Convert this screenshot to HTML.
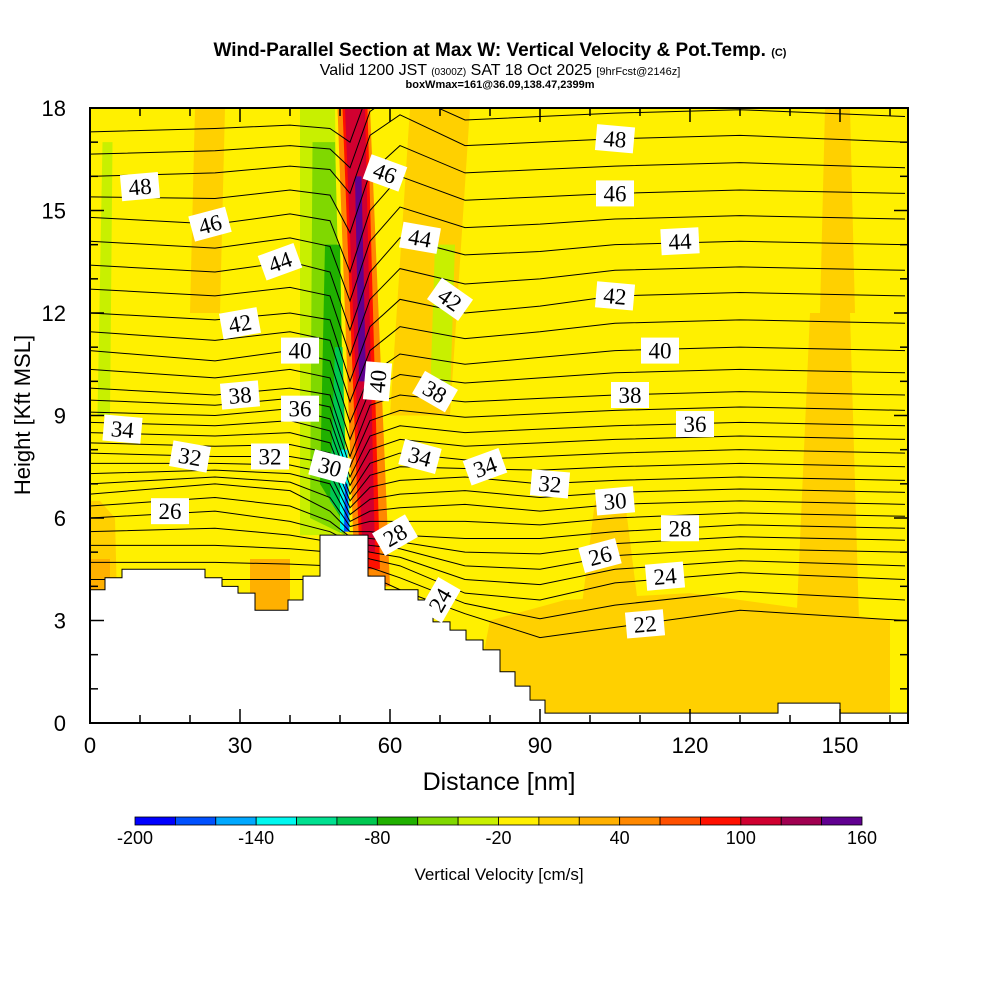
<!DOCTYPE html>
<html><head><meta charset="utf-8"><style>
body{margin:0;background:#fff;width:1000px;height:1000px;overflow:hidden}
svg{display:block;font-family:"Liberation Sans",sans-serif}
</style></head><body>
<svg id="c" width="1000" height="1000" viewBox="0 0 1000 1000">
<text x="500" y="56" text-anchor="middle" font-size="19" font-weight="bold">Wind-Parallel Section at Max W: Vertical Velocity &amp; Pot.Temp. <tspan font-size="11">(C)</tspan></text>
<text x="500" y="75" text-anchor="middle" font-size="16">Valid 1200 JST <tspan font-size="10">(0300Z)</tspan> SAT 18 Oct 2025 <tspan font-size="11">[9hrFcst@2146z]</tspan></text>
<text x="500" y="88" text-anchor="middle" font-size="11" font-weight="bold">boxWmax=161@36.09,138.47,2399m</text>
<text x="30" y="415" text-anchor="middle" font-size="22" transform="rotate(-90 30 415)">Height [Kft MSL]</text>
<text x="499" y="790" text-anchor="middle" font-size="25">Distance [nm]</text>
<text x="499" y="880" text-anchor="middle" font-size="17">Vertical Velocity [cm/s]</text>
<defs><clipPath id="pc"><rect x="90" y="108" width="818" height="615"/></clipPath></defs>
<g id="plot" clip-path="url(#pc)"></g>
<g id="axes"></g>
<g id="cbar"></g>
</svg>
<script>
const NS="http://www.w3.org/2000/svg";
const X0=90,X1=908,Y0=723,Y1=108,XMAX=163.6,YMAX=18;
const sx=v=>X0+v*(X1-X0)/XMAX, sy=v=>Y0-v*(Y0-Y1)/YMAX;
function mk(p,t,a){const e=document.createElementNS(NS,t);for(const k in a)e.setAttribute(k,a[k]);p.appendChild(e);return e;}
const plot=document.getElementById('plot'),axes=document.getElementById('axes'),cbar=document.getElementById('cbar');

const cbLevels=[-200,-180,-160,-140,-120,-100,-80,-60,-40,-20,0,20,40,60,80,100,120,140,160];
const cbColors=["#0000ff","#0050ff","#00a8ff","#00f8f0","#00e090","#00c850","#20b000","#80d800","#c8f000","#fff000","#ffd000","#ffb000","#ff8800","#ff5000","#ff1000","#d00030","#a00050","#600090"];
const cbTicks=[-200,-140,-80,-20,40,100,160];

const wRegions=[
 [10,[[0,0],[6,0],[5,6],[2,6.5],[0,6.5]]],
 [10,[[20,12],[26,12],[27,18],[21,18]]],
 [10,[[60,9],[72,9],[76,18],[64,18]]],
 [10,[[76,0],[160,0],[160,3],[120,3.8],[95,3.6],[80,3]]],
 [10,[[98,3],[110,3],[107,6.5],[101,6.5]]],
 [10,[[141,2],[154,2],[152,12],[144,12]]],
 [10,[[146,12],[153,12],[152,18],[147,18]]],
 [11,[[32,3.3],[40,3.3],[40,4.8],[32,4.8]]],
 [11,[[0,3.9],[4,3.9],[4,4.8],[0,4.8]]],
 [8,[[1.5,9],[4,9],[4.5,17],[2.5,17]]],
 [8,[[68,9.5],[72,9.5],[73,14],[69,14]]],
 [8,[[42,5.5],[50,5.5],[49,18],[42,18]]],
 [7,[[44,6],[51,5.5],[49,17],[44.5,17]]],
 [6,[[46,7],[51,5.8],[50,14],[47,14]]],
 [5,[[48,6.5],[51.5,5.8],[50.5,11],[49,11]]],
 [3,[[50,5.6],[52,5.6],[51.5,8],[50,8]]],
 [1,[[50.8,5.6],[51.8,5.6],[51.5,7],[51,7]]],
 [12,[[53,4],[60,4],[56,18],[49.5,18]]],
 [14,[[54,4.5],[58,4.5],[55.5,18],[50.5,18]]],
 [15,[[54.5,5],[57,5],[55,18],[51,18]]],
 [17,[[53.8,10],[55.2,10],[54.3,16],[53,16]]]
];

const thStations=[0,25,40,48,52,56,62,75,90,105,130,163];
const thLevels=[22,24,26,28,30,32,34,36,38,40,42,44,46,48,50];
const thHeights=[
 [4.2,4.2,4.2,4.2,4.0,4.3,3.9,3.2,2.5,2.8,3.3,3.0],
 [5.2,5.2,5.1,5.0,5.0,4.8,4.6,3.8,3.6,4.1,4.4,4.2],
 [6.0,6.2,5.9,5.6,5.3,5.2,5.1,4.6,4.5,4.9,5.1,5.0],
 [6.7,7.0,6.8,6.2,5.6,5.6,5.5,5.4,5.4,5.6,5.8,5.7],
 [7.3,7.4,7.3,7.0,5.9,6.2,6.3,6.4,6.2,6.4,6.5,6.4],
 [7.9,7.8,7.8,7.6,6.3,6.9,7.1,7.2,7.0,7.1,7.2,7.1],
 [8.5,8.4,8.5,8.2,6.7,7.6,7.9,7.7,7.8,7.9,8.0,7.9],
 [9.1,9.0,9.2,8.9,7.2,8.4,8.7,8.5,8.6,8.7,8.8,8.7],
 [9.8,9.6,9.8,9.6,7.8,9.3,9.6,9.4,9.5,9.6,9.7,9.6],
 [10.9,10.6,10.9,10.6,8.8,10.2,10.8,10.5,10.7,10.9,11.0,10.9],
 [12.0,11.8,12.0,11.8,10.0,11.6,12.4,12.0,12.2,12.5,12.6,12.5],
 [13.4,13.2,13.5,13.2,11.5,13.2,14.2,13.7,13.8,14.0,14.1,14.0],
 [14.8,14.6,14.9,14.7,13.2,15.0,16.0,15.3,15.4,15.5,15.6,15.5],
 [16.0,16.1,16.3,16.2,15.5,17.2,17.8,16.9,17.0,17.1,17.2,17.0],
 [17.3,17.4,17.5,17.4,17.0,18.6,19.2,18.4,18.5,18.6,18.7,18.5]
];
const thLabels=[["48",10,15.7,-5],["46",24,14.6,-15],["44",38,13.5,-20],["42",30,11.7,-10],["40",42,10.9,0],["38",30,9.6,-5],["36",42,9.2,0],["34",6.5,8.6,5],["32",20,7.8,10],["32",36,7.8,0],["30",48,7.5,15],["26",16,6.2,0],
 ["46",59,16.1,20],["44",66,14.2,10],["42",72,12.4,35],["40",57.5,10,-85],["38",69,9.7,30],["34",66,7.8,15],["34",79,7.5,-20],["28",61,5.5,-30],["24",70,3.6,-60],
 ["48",105,17.1,5],["46",105,15.5,0],["44",118,14.1,-3],["42",105,12.5,5],["40",114,10.9,0],["38",108,9.6,0],["36",121,8.75,0],["32",92,7.0,5],["30",105,6.5,-5],["28",118,5.7,0],["26",102,4.9,-15],["24",115,4.3,-5],["22",111,2.9,-5]];

const terrainNm=[0,3,3,6.4,6.4,23,23,26.4,26.4,29.6,29.6,33,33,39.6,39.6,42.6,42.6,46,46,55.6,55.6,59,59,65.6,65.6,68.6,68.6,72,72,75.2,75.2,78.6,78.6,82,82,85,85,88,88,91,91,137.6,137.6,150,150,163.6];
const terrainKft=[3.9,3.9,4.25,4.25,4.5,4.5,4.25,4.25,4.0,4.0,3.8,3.8,3.3,3.3,3.6,3.6,4.3,4.3,5.5,5.5,4.3,4.3,3.9,3.9,3.6,3.6,2.96,2.96,2.72,2.72,2.43,2.43,2.14,2.14,1.5,1.5,1.08,1.08,0.67,0.67,0.29,0.29,0.58,0.58,0.29,0.29];

mk(plot,'rect',{x:X0,y:Y1,width:X1-X0,height:Y0-Y1,fill:cbColors[9]});
wRegions.forEach(r=>{
 const p=mk(plot,'polygon',{points:r[1].map(q=>sx(q[0])+','+sy(q[1])).join(' '),fill:cbColors[r[0]]});
 
 
});
function drawLine(h){
 const l=mk(plot,'polyline',{points:thStations.map((s,i)=>sx(s)+','+sy(h[i])).join(' '),fill:'none',stroke:'#000','stroke-width':1});
 
 
}
thLevels.forEach((lv,i)=>{
 drawLine(thHeights[i]);
 if(i<thLevels.length-1) drawLine(thHeights[i].map((v,j)=>(v+thHeights[i+1][j])/2));
});
const terr=[];terrainNm.forEach((n,i)=>terr.push(sx(n)+','+sy(terrainKft[i])));
terr.push(sx(163.6)+','+sy(0));terr.push(sx(0)+','+sy(0));
const tp=mk(plot,'polygon',{points:terr.join(' '),fill:'#fff',stroke:'#000','stroke-width':1});


thLabels.forEach(l=>{
 const g=mk(plot,'g',{transform:`translate(${sx(l[1])},${sy(l[2])}) rotate(${l[3]})`});
 
 
 mk(g,'rect',{x:-19,y:-13,width:38,height:26,fill:'#fff'});
 const t=mk(g,'text',{x:0,y:8,'text-anchor':'middle','font-size':23,'font-family':'"Liberation Serif",serif'});
 t.textContent=l[0];
});
mk(axes,'rect',{x:X0,y:Y1,width:X1-X0,height:Y0-Y1,fill:'none',stroke:'#000','stroke-width':2});
for(let v=0;v<=160;v+=10){const x=sx(v),L=v%30==0?14:8;
 mk(axes,'line',{x1:x,y1:Y0,x2:x,y2:Y0-L,stroke:'#000','stroke-width':1.5});
 mk(axes,'line',{x1:x,y1:Y1,x2:x,y2:Y1+L,stroke:'#000','stroke-width':1.5});
 if(v%30==0){const t=mk(axes,'text',{x:x,y:753,'text-anchor':'middle','font-size':22});t.textContent=v;
  }}
for(let v=0;v<=18;v++){const y=sy(v),L=v%3==0?14:8;
 mk(axes,'line',{x1:X0,y1:y,x2:X0+L,y2:y,stroke:'#000','stroke-width':1.5});
 mk(axes,'line',{x1:X1,y1:y,x2:X1-L,y2:y,stroke:'#000','stroke-width':1.5});
 if(v%3==0){const t=mk(axes,'text',{x:66,y:y+8,'text-anchor':'end','font-size':22});t.textContent=v;
  }}
const CB0=135,CB1=862,CBW=(CB1-CB0)/cbColors.length;
cbColors.forEach((c,i)=>{const r=mk(cbar,'rect',{x:CB0+i*CBW,y:817,width:CBW,height:8,fill:c,stroke:'#000','stroke-width':0.8});
 });
cbTicks.forEach(v=>{const i=cbLevels.indexOf(v);const t=mk(cbar,'text',{x:CB0+i*CBW,y:844,'text-anchor':'middle','font-size':18});t.textContent=v;
 });
</script>
</body></html>
